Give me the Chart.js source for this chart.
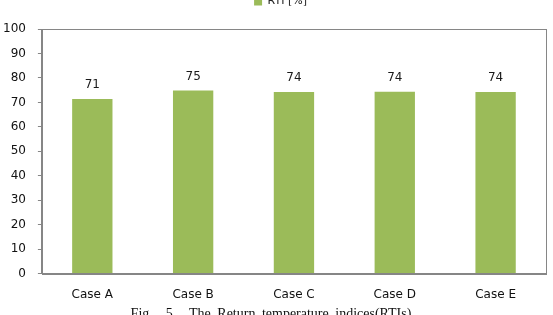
<!DOCTYPE html>
<html>
<head>
<meta charset="utf-8">
<script src="https://cdn.jsdelivr.net/npm/chart.js@4/dist/chart.umd.min.js"></script>
<style>
  html, body { margin: 0; padding: 0; background: #fff; overflow: hidden; }
  #wrap { position: relative; width: 553px; height: 315px; overflow: hidden; }
  #chart { position: absolute; left: -11px; top: -14px; }
  #caption {
    position: absolute; left: 0; width: 542px; top: 306px;
    text-align: center; font-family: "Liberation Serif", serif; font-size: 14px;
    word-spacing: 3px; color: #111;
  }
</style>
</head>
<body>
<div id="wrap">
  <canvas id="chart" width="564" height="336"></canvas>
  <div id="caption">Fig.&nbsp; 5.&nbsp; The Return temperature indices(RTIs)</div>
</div>
<script>
const categories = ["Case A", "Case B", "Case C", "Case D", "Case E"];
const rtiValues = [71.4, 74.9, 74.2, 74.3, 74.2];
const yTicks = [0, 10, 20, 30, 40, 50, 60, 70, 80, 90, 100];
const seriesName = "RTI [%]";

const frameColor = "#868686";
const barColor = "#9BBB59";
const textFont = "DejaVu Sans";

// box around the plot area, like the spreadsheet chart
const plotBox = {
  id: 'plotBox',
  afterDraw(chart){
    let a = chart.chartArea;
    let ctx = chart.ctx;
    ctx.save();
    ctx.strokeStyle = frameColor;
    ctx.lineWidth = 1;
    ctx.strokeRect(Math.round(a.left) + 0.5, Math.round(a.top) + 0.5,
                   Math.round(a.right - a.left), Math.round(a.bottom - a.top));
    ctx.restore();
  }
};

// extra room under the legend, and nudge it a bit to the right
const legendGap = {
  id: 'legendGap',
  beforeInit(chart){
    let fit = chart.legend.fit;
    chart.legend.fit = function(){
      fit.bind(chart.legend)();
      this.height += 12;
    };
  },
  afterLayout(chart){
    chart.legend.left += 12;
    chart.legend.right += 12;
  }
};

// value labels above each bar
const barLabels = {
  id: 'barLabels',
  afterDatasetsDraw(chart){
    let ctx = chart.ctx;
    let meta = chart.getDatasetMeta(0);
    ctx.save();
    ctx.font = "12px '" + textFont + "'";
    ctx.fillStyle = "#1a1a1a";
    ctx.textAlign = "center";
    ctx.textBaseline = "middle";
    meta.data.forEach(function(bar, i){
      ctx.fillText(Math.round(rtiValues[i]), bar.x, bar.y - 14);
    });
    ctx.restore();
  }
};

new Chart(document.getElementById('chart'), {
  type: 'bar',
  data: {
    labels: categories,
    datasets: [{
      label: seriesName,
      data: rtiValues,
      backgroundColor: barColor,
      borderWidth: 0,
      categoryPercentage: 1,
      barPercentage: 0.4
    }]
  },
  options: {
    responsive: false,
    animation: false,
    layout: { padding: { left: 2, right: 7, top: 0, bottom: 6 } },
    plugins: {
      legend: {
        position: 'top',
        labels: {
          boxWidth: 8,
          boxHeight: 8,
          padding: 10,
          color: "#222",
          font: { family: textFont, size: 11 }
        }
      },
      tooltip: { enabled: false }
    },
    scales: {
      x: {
        grid: { display: false, drawTicks: false },
        border: { display: true, color: frameColor },
        ticks: { color: "#111", padding: 14, font: { family: textFont, size: 12 } }
      },
      y: {
        min: 0,
        max: 100,
        afterBuildTicks(axis){ axis.ticks = yTicks.map(v => ({ value: v })); },
        grid: { drawOnChartArea: false, tickLength: 4, color: frameColor },
        border: { display: true, color: frameColor },
        ticks: { color: "#111", padding: 12, font: { family: textFont, size: 12 } }
      }
    }
  },
  plugins: [legendGap, plotBox, barLabels]
});
</script>
</body>
</html>
